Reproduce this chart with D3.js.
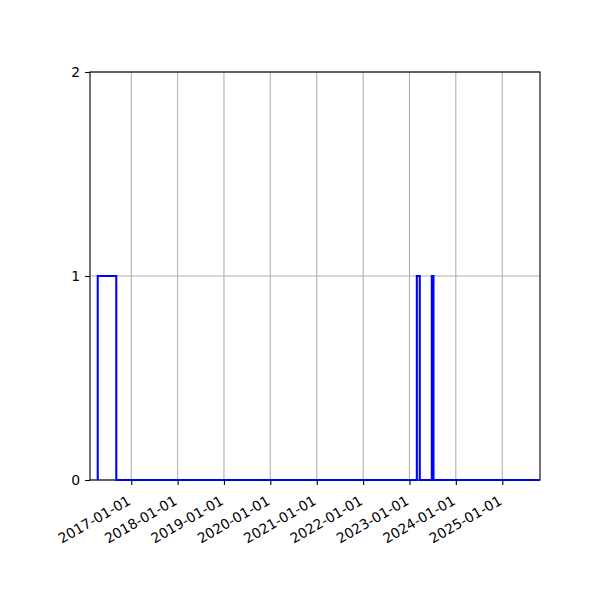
<!DOCTYPE html>
<html>
<head>
<meta charset="utf-8">
<script src="https://cdn.jsdelivr.net/npm/d3@7"></script>
<style>
  body { margin: 0; background: #fff; }
  svg text { font-family: "DejaVu Sans", sans-serif; font-size: 13.9px; fill: #000; }
</style>
</head>
<body>
<svg id="chart" width="600" height="600"></svg>
<script>
// step data: value holds from each date until the next one
var stepDates = ["2016-04-12", "2016-04-12", "2016-09-05", "2023-02-28", "2023-03-23", "2023-06-26", "2023-07-09", "2025-12-31"];
var stepValues = [0, 1, 0, 1, 0, 1, 0, 0];
var xRange = ["2016-02-11", "2025-10-25"];
var xTicks = ["2017-01-01", "2018-01-01", "2019-01-01", "2020-01-01", "2021-01-01", "2022-01-01", "2023-01-01", "2024-01-01", "2025-01-01"];
var yTicks = [0, 1, 2];

var parse = d3.utcParse("%Y-%m-%d");
var fmt = d3.utcFormat("%Y-%m-%d");

var svg = d3.select("#chart"),
    margin = {top: 72, right: 60, bottom: 120, left: 90},
    width = +svg.attr("width") - margin.left - margin.right,
    height = +svg.attr("height") - margin.top - margin.bottom;

var g = svg.append("g").attr("transform", "translate(" + margin.left + "," + margin.top + ")");

var x = d3.scaleUtc().domain(xRange.map(parse)).range([0, width]);
var y = d3.scaleLinear().domain([0, 2]).range([height, 0]);

var data = stepDates.map(function(d, i) { return {date: parse(d), value: stepValues[i]}; });

// grid
g.append("g").selectAll("line.gx")
    .data(xTicks.map(parse))
    .enter().append("line")
    .attr("x1", function(d) { return x(d); })
    .attr("x2", function(d) { return x(d); })
    .attr("y1", 0).attr("y2", height)
    .attr("stroke", "#b0b0b0").attr("stroke-width", 1.1);

g.append("g").selectAll("line.gy")
    .data(yTicks)
    .enter().append("line")
    .attr("x1", 0).attr("x2", width)
    .attr("y1", function(d) { return y(d); })
    .attr("y2", function(d) { return y(d); })
    .attr("stroke", "#b0b0b0").attr("stroke-width", 1.1);

// spines
g.append("rect")
    .attr("x", 0).attr("y", 0)
    .attr("width", width).attr("height", height)
    .attr("fill", "none").attr("stroke", "#000").attr("stroke-width", 1.1);

// step line, clipped to the axes box
g.append("clipPath").attr("id", "clip")
    .append("rect").attr("x", -2).attr("y", -2).attr("width", width + 2).attr("height", height + 4);

var line = d3.line()
    .curve(d3.curveStepAfter)
    .x(function(d) { return x(d.date); })
    .y(function(d) { return y(d.value); });

g.append("path")
    .datum(data)
    .attr("clip-path", "url(#clip)")
    .attr("fill", "none")
    .attr("stroke", "#0000ff")
    .attr("stroke-width", 2.08)
    .attr("stroke-linejoin", "miter")
    .attr("stroke-linecap", "butt")
    .attr("d", line);

// x axis
var xAxis = d3.axisBottom(x)
    .tickValues(xTicks.map(parse))
    .tickFormat(fmt)
    .tickSize(4.9)
    .tickPadding(4.9);

var gx = g.append("g")
    .attr("transform", "translate(0," + height + ")")
    .call(xAxis);
gx.select(".domain").remove();
gx.selectAll(".tick line").attr("stroke", "#000").attr("stroke-width", 1.1);
gx.selectAll(".tick text")
    .attr("text-anchor", "end")
    .attr("x", 0).attr("y", 23.5)
    .attr("dy", 0)
    .attr("transform", "rotate(-30, 0, 23.5)");

// y axis
var yAxis = d3.axisLeft(y)
    .tickValues(yTicks)
    .tickFormat(d3.format("d"))
    .tickSize(4.9)
    .tickPadding(4.9);

var gy = g.append("g").call(yAxis);
gy.select(".domain").remove();
gy.selectAll(".tick line").attr("stroke", "#000").attr("stroke-width", 1.1);
</script>
</body>
</html>
